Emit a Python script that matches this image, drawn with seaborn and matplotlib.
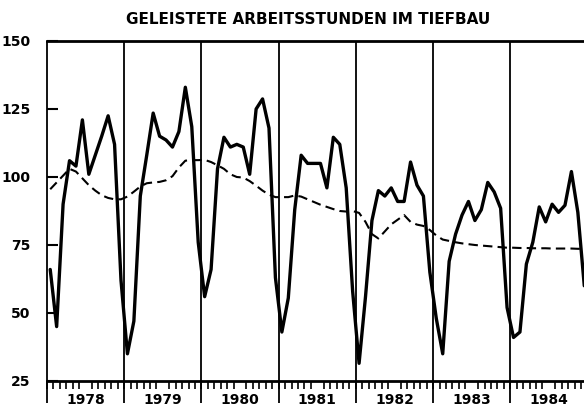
import numpy as np
import pandas as pd
import matplotlib
matplotlib.use('Agg')
import matplotlib.pyplot as plt
import seaborn as sns

# Jahre und Monate (Monatswerte 1978-1984)
jahre = [1978, 1979, 1980, 1981, 1982, 1983, 1984]
jahr_labels = [str(j) for j in jahre]
y_ticks = [25, 50, 75, 100, 125, 150]

# geleistete Arbeitsstunden (Originalwerte), Jan..Dez je Jahr
stunden = [
    66, 45, 90, 106, 104, 121, 101, 108, 115, 122.5, 112, 62,      # 1978
    35, 47, 93, 108, 123.5, 115, 113.6, 111, 116.7, 133, 118.5, 76,  # 1979
    56, 66, 103, 114.6, 111, 112, 111, 101, 125, 128.7, 118, 63,   # 1980
    43, 55.5, 88, 108, 105, 105, 105, 96, 114.6, 112, 96, 58,      # 1981
    31.5, 56, 84, 95, 93, 96, 91, 91, 105.5, 97, 93, 65,           # 1982
    48, 35, 69, 79, 86, 91, 84, 88, 98, 94.5, 88.5, 52,            # 1983
    41, 43, 68, 76, 89, 83.5, 90, 87, 89.6, 102, 87, 60,           # 1984
]

# Trend-Konjunktur-Komponente (gestrichelt)
trend = [
    95.5, 98, 100.5, 103, 102, 99.5, 97, 95, 93.3, 92.3, 91.8, 91.8,
    92.8, 94.6, 96.5, 97.7, 98, 98.2, 98.8, 100.3, 103.5, 106, 106.2, 106.2,
    106.3, 105.5, 104.3, 103, 101, 100, 99.8, 98.5, 96.8, 95, 93.5, 92.6,
    92.6, 92.6, 93.2, 92.8, 91.8, 90.8, 89.8, 89, 88.2, 87.5, 87.3, 87.5,
    86.8, 83.5, 79, 77.4, 80, 82.6, 84.3, 86, 83.5, 82.5, 82, 80.5,
    78.5, 77, 76.5, 76, 75.6, 75.3, 75, 74.8, 74.6, 74.4, 74.2, 74,
    74, 73.9, 73.9, 73.8, 73.8, 73.8, 73.7, 73.7, 73.7, 73.7, 73.6, 73.6,
]

zeit = [j + (m - 0.5) / 12 for j in jahre for m in range(1, 13)]
df = pd.DataFrame({'zeit': zeit, 'stunden': stunden, 'trend': trend})

sns.set_style('white')
plt.rcParams['font.family'] = ['DejaVu Sans']
plt.rcParams['text.color'] = 'black'
plt.rcParams['xtick.color'] = 'black'
plt.rcParams['ytick.color'] = 'black'

fig = plt.figure(figsize=(5.84, 4.09), dpi=100)
ax = fig.add_axes([47 / 584, 28 / 409, 540.5 / 584, 340 / 409])

sns.lineplot(data=df, x='zeit', y='stunden', color='black', lw=2.4, ax=ax)
sns.lineplot(data=df, x='zeit', y='trend', color='black', lw=1.5,
             linestyle=(0, (4.5, 2.5)), ax=ax)

ax.set_xlim(jahre[0], jahre[-1] + 1)
ax.set_ylim(y_ticks[0], y_ticks[-1])

# Jahrestrennlinien, unten ueber die Achse hinaus
ax.vlines(jahre, 17, y_ticks[-1], colors='black', lw=1.3, clip_on=False)

for side in ['left', 'right']:
    ax.spines[side].set_visible(False)
for side in ['top', 'bottom']:
    ax.spines[side].set_linewidth(2)
    ax.spines[side].set_color('black')

ax.set_yticks(y_ticks)
ax.set_yticklabels([str(v) for v in y_ticks], fontweight='bold', fontsize=10)
ax.tick_params(axis='y', direction='in', length=8, width=1.5, pad=12,
               left=True)

ax.set_xticks([j + 0.5 for j in jahre])
ax.set_xticklabels(jahr_labels, fontweight='bold', fontsize=10)
ax.set_xticks(np.arange(jahre[0], jahre[-1] + 1, 1 / 12), minor=True)
ax.tick_params(axis='x', which='major', length=0, pad=9)
ax.tick_params(axis='x', which='minor', direction='out', length=6, width=1.2,
               bottom=True)

ax.set_xlabel('')
ax.set_ylabel('')

fig.text(308 / 584, 1 - 20 / 409, 'GELEISTETE ARBEITSSTUNDEN IM TIEFBAU',
         ha='center', va='center', fontweight='bold', fontsize=11)

fig.savefig('out.png', dpi=100)
